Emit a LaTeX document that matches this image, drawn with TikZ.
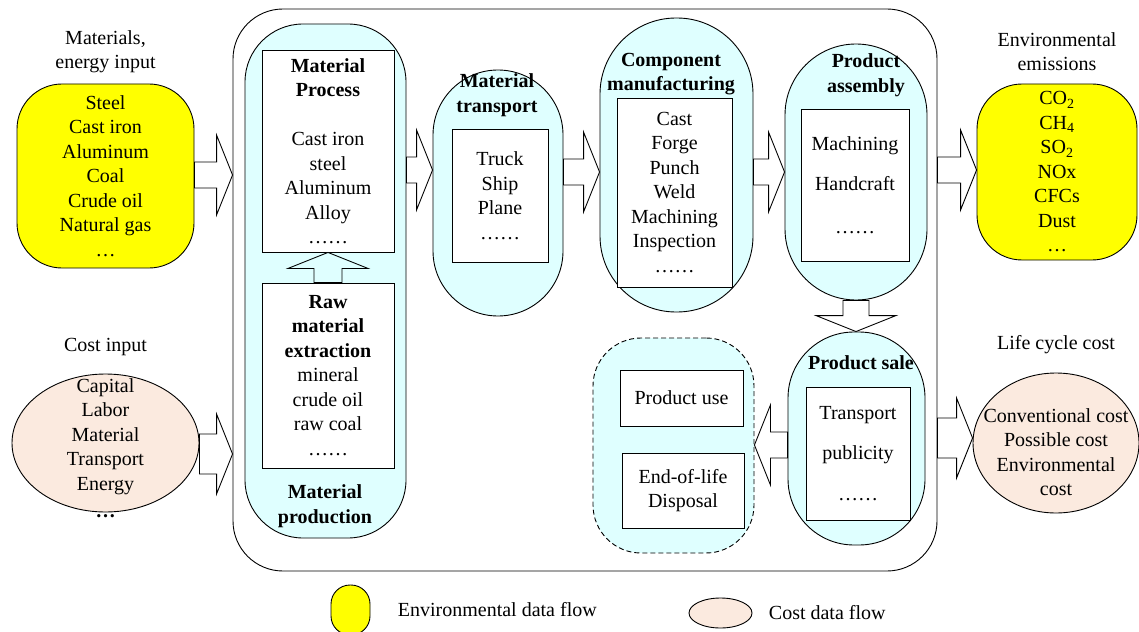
\documentclass[tikz,border=0pt]{standalone}
\usepackage{fontspec}
\setmainfont{Liberation Serif}
\usetikzlibrary{calc,positioning,shapes.geometric}

\definecolor{stagecyan}{HTML}{DFFFFF}
\definecolor{envyellow}{HTML}{FFFF00}
\definecolor{costbeige}{HTML}{FBEADF}

% hollow block arrow from #2 to #3
\newcommand\fatarrow[3][]{%
  \coordinate (fa-s) at #2;
  \coordinate (fa-t) at #3;
  \coordinate (fa-h) at ($(fa-t)!16pt!(fa-s)$);
  \draw[fat, #1]
    ($(fa-s)!\fatshaft!90:(fa-t)$) -- ($(fa-h)!\fatshaft!90:(fa-t)$) --
    ($(fa-h)!40pt!90:(fa-t)$) -- (fa-t) --
    ($(fa-h)!40pt!-90:(fa-t)$) -- ($(fa-h)!\fatshaft!-90:(fa-t)$) --
    ($(fa-s)!\fatshaft!-90:(fa-t)$) -- cycle;}

\begin{document}
\begin{tikzpicture}
  [ x=1pt, y=-1pt,
    line width=0.9pt,
    font=\fontsize{20}{24.5}\selectfont]
  \tikzset{
    base/.style={
      align=center, inner sep=0pt,
    },
    wh/.style 2 args={
      minimum width=#1pt, minimum height=#2pt,
    },
    lcframe/.style={
      draw, rounded corners=50pt,
    },
    stage/.style={
      base, draw, fill=stagecyan,
      rounded corners=#1,
    },
    stage/.default=55pt,
    listbox/.style={
      base, draw, fill=white,
    },
    stagetitle/.style={
      base, font=\fontsize{20}{24.5}\selectfont\bfseries,
    },
    envflow/.style={
      base, draw, fill=envyellow,
      rounded corners=#1,
    },
    envflow/.default=45pt,
    costflow/.style={
      base, draw, fill=costbeige, ellipse,
    },
    fat/.style={draw, fill=white, sharp corners},
    shaft/.store in=\fatshaft,
    shaft=13pt,
  }

  \useasboundingbox (0,0) rectangle (1139,631);

  \node[lcframe, wh={704}{562}] (lc) at (585,290) {};

  % material production
  \node[stage=58pt, wh={161}{514}] (prod) at (325.5,281) {};
  \node[listbox, wh={132}{202}] (proc) at (328,151)
    {\textbf{Material}\\\textbf{Process}\\[24.5pt]Cast iron\\steel\\Aluminum\\Alloy\\\ldots\ldots};
  \node[listbox, wh={132}{185}] (raw) at (328,375.5)
    {\textbf{Raw}\\\textbf{material}\\\textbf{extraction}\\mineral\\crude oil\\raw coal\\\ldots\ldots};
  \node[stagetitle] (prodtitle) at (325,506) {Material\\production};

  % material transport
  \node[stage=65pt, wh={130}{246}] (trans) at (498,193) {};
  \node[listbox, wh={96}{133}] (transbox) at (500,195.5) {Truck\\Ship\\Plane\\\ldots\ldots};
  \node[stagetitle] (transtitle) at (497,95) {Material\\transport};

  % component manufacturing
  \node[stage=76pt, wh={153}{294}] (comp) at (676.5,165) {};
  \node[listbox, wh={115}{189}] (compbox) at (674.5,192.5)
    {Cast\\Forge\\Punch\\Weld\\Machining\\Inspection\\\ldots\ldots};
  \node[stagetitle] (comptitle) at (671,74) {Component\\manufacturing};

  % product assembly
  \node[stage=71pt, wh={142}{256}] (asm) at (856,172) {};
  \node[listbox, wh={108}{152}] (asmbox) at (855,185) {Machining\\[16pt]Handcraft\\[18pt]\ldots\ldots};
  \node[stagetitle] (asmtitle) at (866,75) {Product\\assembly};

  % product sale
  \node[stage=66pt, wh={137}{213}] (sale) at (856.5,438.5) {};
  \node[listbox, wh={104}{133}] (salebox) at (858,453.5) {Transport\\[16pt]publicity\\[16pt]\ldots\ldots};
  \node[stagetitle] (saletitle) at (861,363) {Product sale};

  % use and disposal
  \node[stage=48pt, dash pattern=on 5pt off 3pt, wh={161}{215}] (usegrp) at (673.5,445.5) {};
  \node[listbox, wh={123}{56}] (use) at (681.5,398) {Product use};
  \node[listbox, wh={122}{75}] (eol) at (683,490.5) {End-of-life\\Disposal};

  % inputs
  \node[envflow, wh={177}{184}] (envin) at (105.5,176)
    {Steel\\Cast iron\\Aluminum\\Coal\\Crude oil\\Natural gas\\\dots};
  \node[base, above=10pt of envin] (envinlabel) {Materials,\\energy input};
  \node[costflow, wh={187}{138}] (cost) at (105.5,443) {};
  \node[base] (costtext) at (105.5,448)
    {Capital\\Labor\\Material\\Transport\\Energy\\[3pt]\textbf{\dots}};
  \node[base, above=17pt of cost] (costlabel) {Cost input};

  % outputs
  \node[envflow, wh={160}{176}] (emis) at (1057,172)
    {CO\textsubscript{2}\\CH\textsubscript{4}\\SO\textsubscript{2}\\NOx\\CFCs\\Dust\\\dots};
  \node[base, above=12pt of emis] (emislabel) {Environmental\\emissions};
  \node[costflow, wh={166}{140}] (lcc) at (1056,443) {};
  \node[base] (lcctext) at (1056,452)
    {Conventional cost\\Possible cost\\Environmental\\cost};
  \node[base, above=18pt of lcc] (lcclabel) {Life cycle cost};

  % flows
  \fatarrow{(envin.east |- 0,175)}{(lc.west |- 0,175)}
  \fatarrow[shaft=20pt]{(cost.east |- 0,454)}{(lc.west |- 0,454)}
  \fatarrow[shaft=14pt, fill=stagecyan]{(raw.north)}{(proc.south)}
  \fatarrow{(prod.east |- 0,170)}{(trans.west |- 0,170)}
  \fatarrow{(trans.east |- 0,172)}{(comp.west |- 0,172)}
  \fatarrow{(comp.east |- 0,172)}{(asm.west |- 0,172)}
  \fatarrow{(asm.south)}{(asm.south |- sale.north)}
  \fatarrow{(sale.west |- 0,445)}{(usegrp.east |- 0,445)}
  \fatarrow{(lc.east |- 0,170)}{(emis.west |- 0,170)}
  \fatarrow[shaft=20pt]{(lc.east |- 0,438)}{(lcc.west |- 0,438)}

  % legend
  \node[envflow=19pt, wh={39}{50}] (lgenv) at (350.5,610) {};
  \node[base, right=27pt of lgenv] (lgenvtext) {Environmental data flow};
  \node[costflow, wh={63}{30}] (lgcost) at (720.5,613) {};
  \node[base, right=16pt of lgcost] (lgcosttext) {Cost data flow};
\end{tikzpicture}
\end{document}
